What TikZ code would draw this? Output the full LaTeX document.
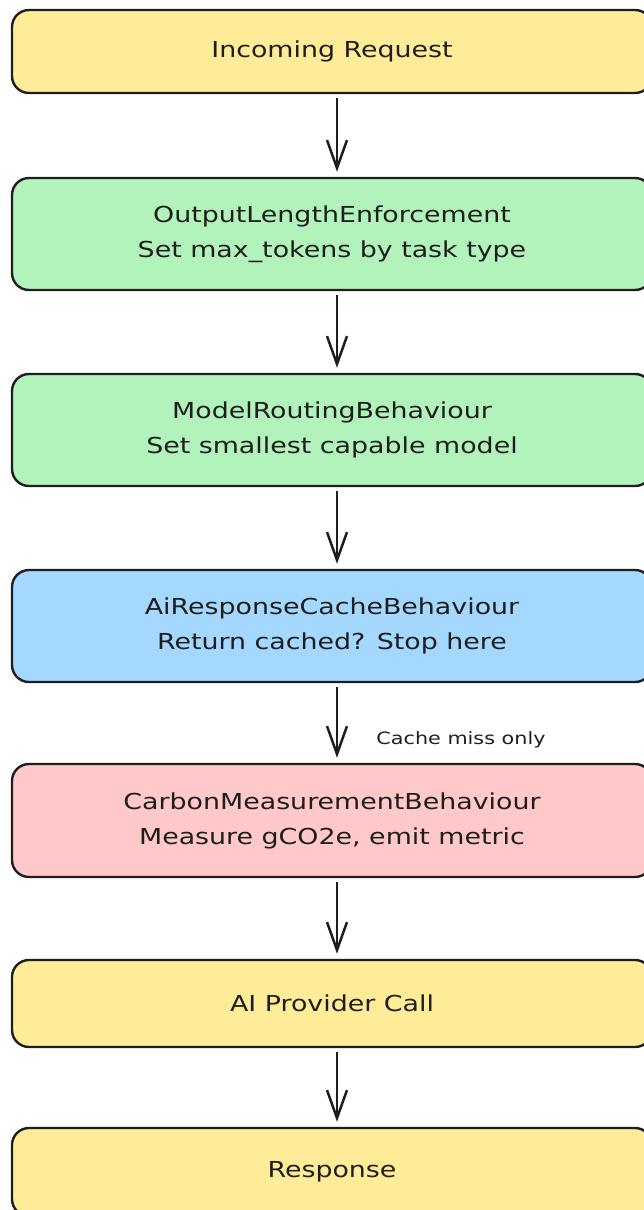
\documentclass[tikz,border=0pt]{standalone}
\usepackage{fontspec}
\setmainfont{DejaVu Sans}[FakeStretch=1.22]
\usetikzlibrary{arrows.meta}
\definecolor{ink}{HTML}{1E1E1E}
\definecolor{fillyellow}{HTML}{FFEC99}
\definecolor{fillgreen}{HTML}{B2F2BB}
\definecolor{fillblue}{HTML}{A5D8FF}
\definecolor{fillpink}{HTML}{FFC9C9}
\tikzset{
  stage/.style={draw=ink, line width=2.4pt, rounded corners=17pt,
    minimum width=640pt, align=center, text=ink,
    font=\fontsize{22}{35}\selectfont},
  flow/.style={draw=ink, line width=2.7pt,
    -{Straight Barb[length=28pt,width=20pt,line width=2.5pt]}},
  note/.style={text=ink, font=\fontsize{17}{18}\selectfont}
}
\begin{document}
\begin{tikzpicture}[x=1pt,y=-1pt]
\useasboundingbox (0,0) rectangle (644,1210);
\begin{scope}
\clip (0,0) rectangle (644,1210);
\node[stage, fill=fillyellow, minimum height=83pt] (req) at (332,51.5) {Incoming Request};
\node[stage, fill=fillgreen, minimum height=112pt] (olen) at (332,234) {OutputLengthEnforcement\\Set max\_tokens by task type};
\node[stage, fill=fillgreen, minimum height=112pt] (route) at (332,430) {ModelRoutingBehaviour\\Set smallest capable model};
\node[stage, fill=fillblue, minimum height=112pt] (cache) at (332,626) {AiResponseCacheBehaviour\\Return cached? Stop here};
\node[stage, fill=fillpink, minimum height=113pt] (carbon) at (332,820.5) {CarbonMeasurementBehaviour\\Measure gCO2e, emit metric};
\node[stage, fill=fillyellow, minimum height=87pt] (call) at (332,1003.5) {AI Provider Call};
\node[stage, fill=fillyellow, minimum height=88pt] (resp) at (332,1172) {Response};
\end{scope}

\draw[flow] ([xshift=5pt,yshift=-4pt]req.south) -- ([xshift=5pt,yshift=5pt]olen.north);
\draw[flow] ([xshift=5pt,yshift=-4pt]olen.south) -- ([xshift=5pt,yshift=5pt]route.north);
\draw[flow] ([xshift=5pt,yshift=-4pt]route.south) -- ([xshift=5pt,yshift=5pt]cache.north);
\draw[flow] ([xshift=5pt,yshift=-4pt]cache.south) -- ([xshift=5pt,yshift=5pt]carbon.north);
\draw[flow] ([xshift=5pt,yshift=-4pt]carbon.south) -- ([xshift=5pt,yshift=5pt]call.north);
\draw[flow] ([xshift=5pt,yshift=-4pt]call.south) -- ([xshift=5pt,yshift=5pt]resp.north);

\node[note] (miss) at (461,740) {Cache miss only};
\end{tikzpicture}
\end{document}
